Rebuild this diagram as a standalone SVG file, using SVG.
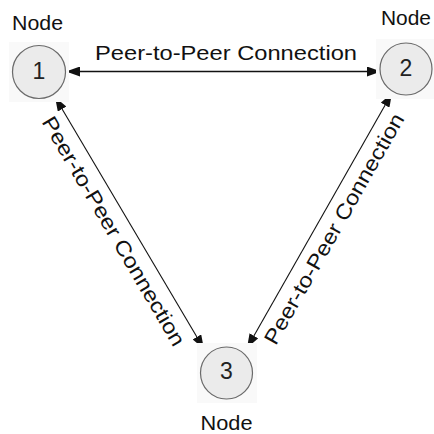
<svg xmlns="http://www.w3.org/2000/svg" width="434" height="434" viewBox="0 0 434 434">
  <defs>
    <marker id="arrow" viewBox="0 0 14 10" refX="14" refY="5" markerWidth="14" markerHeight="10" markerUnits="userSpaceOnUse" orient="auto-start-reverse">
      <path d="M0,0 L14,5 L0,10 Z" fill="#111"/>
    </marker>
  </defs>
  <style>
    .bg { fill: #f9f9f9; }
    .node { fill: #ebebeb; stroke: #6a6a6a; stroke-width: 1.2; }
    .num { font-family: "Liberation Sans", Arial, sans-serif; font-size: 23px; fill: #222; text-anchor: middle; }
    .label { font-family: "Liberation Sans", Arial, sans-serif; font-size: 20px; fill: #111; text-anchor: middle; }
    .conn-text { font-family: "Liberation Sans", Arial, sans-serif; font-size: 21px; fill: #111; text-anchor: middle; }
    .link { stroke: #111; fill: none; marker-start: url(#arrow); marker-end: url(#arrow); }
  </style>
  <rect width="434" height="434" fill="#ffffff"/>

  <!-- peer-to-peer links with arrowheads at both ends -->
  <g id="connectors">
    <line class="link" x1="66" y1="71.5" x2="381" y2="71.5" stroke-width="1.6"/>
    <text class="conn-text" x="226" y="60" textLength="262" lengthAdjust="spacingAndGlyphs">Peer-to-Peer Connection</text>

    <line class="link" x1="55" y1="97" x2="204" y2="349" stroke-width="1.1"/>
    <text class="conn-text" transform="translate(129.5,223) rotate(59.6)" x="-1" y="25" textLength="262" lengthAdjust="spacingAndGlyphs">Peer-to-Peer Connection</text>

    <line class="link" x1="247" y1="348" x2="392" y2="93" stroke-width="1.1"/>
    <text class="conn-text" transform="translate(319.5,220.5) rotate(-60.4)" x="0" y="24" textLength="262" lengthAdjust="spacingAndGlyphs">Peer-to-Peer Connection</text>
  </g>

  <g id="node1">
    <rect class="bg" x="9" y="42" width="60" height="60"/>
    <circle class="node" cx="39" cy="72" r="26.5"/>
    <text class="num" x="39" y="79">1</text>
    <text class="label" x="37.5" y="30" textLength="51" lengthAdjust="spacingAndGlyphs">Node</text>
  </g>

  <g id="node2">
    <rect class="bg" x="376" y="39" width="58" height="60"/>
    <circle class="node" cx="406" cy="69" r="26"/>
    <text class="num" x="406" y="76">2</text>
    <text class="label" x="406" y="25" textLength="50" lengthAdjust="spacingAndGlyphs">Node</text>
  </g>

  <g id="node3">
    <rect class="bg" x="197" y="343" width="60" height="60"/>
    <circle class="node" cx="226.5" cy="373" r="26"/>
    <text class="num" x="226.5" y="379">3</text>
    <text class="label" x="226.5" y="430" textLength="52" lengthAdjust="spacingAndGlyphs">Node</text>
  </g>
</svg>
